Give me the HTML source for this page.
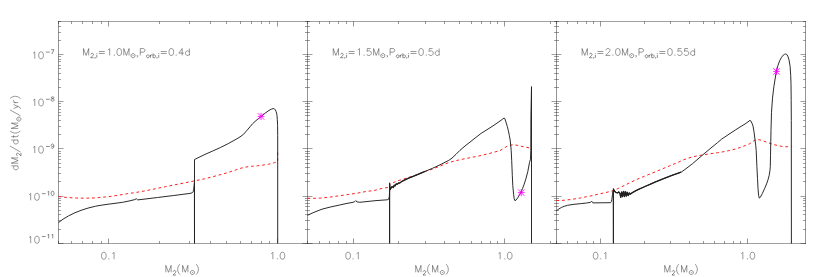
<!DOCTYPE html>
<html lang="en"><head><meta charset="utf-8"><title>Mass transfer rate vs donor mass</title>
<style>html,body{margin:0;padding:0;background:#fff;font-family:"Liberation Sans",sans-serif}svg{display:block}</style></head>
<body>
<svg width="830" height="277" viewBox="0 0 830 277" role="img">
<title>Mass-transfer rate dM2/dt (Msun/yr) versus donor mass M2 (Msun)</title>
<desc>Three log-log panels sharing the y axis dM2/dt(Msun/yr) from 10^-11 to 10^-7, x axis M2(Msun) with ticks 0.1 and 1.0. Panel labels: M2,i=1.0Msun,Porb,i=0.4d; M2,i=1.5Msun,Porb,i=0.5d; M2,i=2.0Msun,Porb,i=0.55d. Solid black curve: mass-transfer rate; dashed red curve: comparison rate; magenta asterisk marks a reference point.</desc>
<rect width="830" height="277" fill="#fff"/>
<path d="M58.0 21.5H806.0M58.0 243.5H806.0" fill="none" stroke="#1a1a1a" stroke-width="0.42"/>
<path d="M58.5 21.0V244.0M307.5 21.0V244.0M556.5 21.0V244.0M805.5 21.0V244.0" fill="none" stroke="#1a1a1a" stroke-width="0.47"/>
<path d="M58.5 243.5v-2.5M58.5 21.5v2.5M71.5 243.5v-2.5M71.5 21.5v2.5M82.5 243.5v-2.5M82.5 21.5v2.5M92.5 243.5v-2.5M92.5 21.5v2.5M101.5 243.5v-2.5M101.5 21.5v2.5M108.5 243.5v-5.0M108.5 21.5v5.0M159.5 243.5v-2.5M159.5 21.5v2.5M189.5 243.5v-2.5M189.5 21.5v2.5M210.5 243.5v-2.5M210.5 21.5v2.5M226.5 243.5v-2.5M226.5 21.5v2.5M240.5 243.5v-2.5M240.5 21.5v2.5M251.5 243.5v-2.5M251.5 21.5v2.5M261.5 243.5v-2.5M261.5 21.5v2.5M269.5 243.5v-2.5M269.5 21.5v2.5M277.5 243.5v-5.0M277.5 21.5v5.0M307.5 243.5v-2.5M307.5 21.5v2.5M319.5 243.5v-2.5M319.5 21.5v2.5M329.5 243.5v-2.5M329.5 21.5v2.5M338.5 243.5v-2.5M338.5 21.5v2.5M346.5 243.5v-2.5M346.5 21.5v2.5M353.5 243.5v-5.0M353.5 21.5v5.0M398.5 243.5v-2.5M398.5 21.5v2.5M425.5 243.5v-2.5M425.5 21.5v2.5M444.5 243.5v-2.5M444.5 21.5v2.5M459.5 243.5v-2.5M459.5 21.5v2.5M471.5 243.5v-2.5M471.5 21.5v2.5M481.5 243.5v-2.5M481.5 21.5v2.5M490.5 243.5v-2.5M490.5 21.5v2.5M497.5 243.5v-2.5M497.5 21.5v2.5M504.5 243.5v-5.0M504.5 21.5v5.0M550.5 243.5v-2.5M550.5 21.5v2.5M556.5 243.5v-2.5M556.5 21.5v2.5M567.5 243.5v-2.5M567.5 21.5v2.5M577.5 243.5v-2.5M577.5 21.5v2.5M586.5 243.5v-2.5M586.5 21.5v2.5M593.5 243.5v-2.5M593.5 21.5v2.5M600.5 243.5v-5.0M600.5 21.5v5.0M644.5 243.5v-2.5M644.5 21.5v2.5M670.5 243.5v-2.5M670.5 21.5v2.5M689.5 243.5v-2.5M689.5 21.5v2.5M703.5 243.5v-2.5M703.5 21.5v2.5M714.5 243.5v-2.5M714.5 21.5v2.5M724.5 243.5v-2.5M724.5 21.5v2.5M733.5 243.5v-2.5M733.5 21.5v2.5M740.5 243.5v-2.5M740.5 21.5v2.5M747.5 243.5v-5.0M747.5 21.5v5.0M791.5 243.5v-2.5M791.5 21.5v2.5" fill="none" stroke="#1a1a1a" stroke-width="0.46"/>
<path d="M58.5 243.5h5.0M307.5 243.5h-5.0M58.5 229.5h2.5M307.5 229.5h-2.5M58.5 220.5h2.5M307.5 220.5h-2.5M58.5 214.5h2.5M307.5 214.5h-2.5M58.5 210.5h2.5M307.5 210.5h-2.5M58.5 206.5h2.5M307.5 206.5h-2.5M58.5 203.5h2.5M307.5 203.5h-2.5M58.5 200.5h2.5M307.5 200.5h-2.5M58.5 198.5h2.5M307.5 198.5h-2.5M58.5 196.5h5.0M307.5 196.5h-5.0M58.5 181.5h2.5M307.5 181.5h-2.5M58.5 173.5h2.5M307.5 173.5h-2.5M58.5 167.5h2.5M307.5 167.5h-2.5M58.5 163.5h2.5M307.5 163.5h-2.5M58.5 159.5h2.5M307.5 159.5h-2.5M58.5 156.5h2.5M307.5 156.5h-2.5M58.5 153.5h2.5M307.5 153.5h-2.5M58.5 151.5h2.5M307.5 151.5h-2.5M58.5 148.5h5.0M307.5 148.5h-5.0M58.5 134.5h2.5M307.5 134.5h-2.5M58.5 126.5h2.5M307.5 126.5h-2.5M58.5 120.5h2.5M307.5 120.5h-2.5M58.5 115.5h2.5M307.5 115.5h-2.5M58.5 112.5h2.5M307.5 112.5h-2.5M58.5 109.5h2.5M307.5 109.5h-2.5M58.5 106.5h2.5M307.5 106.5h-2.5M58.5 103.5h2.5M307.5 103.5h-2.5M58.5 101.5h5.0M307.5 101.5h-5.0M58.5 87.5h2.5M307.5 87.5h-2.5M58.5 79.5h2.5M307.5 79.5h-2.5M58.5 73.5h2.5M307.5 73.5h-2.5M58.5 68.5h2.5M307.5 68.5h-2.5M58.5 65.5h2.5M307.5 65.5h-2.5M58.5 61.5h2.5M307.5 61.5h-2.5M58.5 59.5h2.5M307.5 59.5h-2.5M58.5 56.5h2.5M307.5 56.5h-2.5M58.5 54.5h5.0M307.5 54.5h-5.0M58.5 40.5h2.5M307.5 40.5h-2.5M58.5 32.5h2.5M307.5 32.5h-2.5M58.5 26.5h2.5M307.5 26.5h-2.5M58.5 21.5h2.5M307.5 21.5h-2.5M307.5 243.5h5.0M556.5 243.5h-5.0M307.5 229.5h2.5M556.5 229.5h-2.5M307.5 220.5h2.5M556.5 220.5h-2.5M307.5 214.5h2.5M556.5 214.5h-2.5M307.5 210.5h2.5M556.5 210.5h-2.5M307.5 206.5h2.5M556.5 206.5h-2.5M307.5 203.5h2.5M556.5 203.5h-2.5M307.5 200.5h2.5M556.5 200.5h-2.5M307.5 198.5h2.5M556.5 198.5h-2.5M307.5 196.5h5.0M556.5 196.5h-5.0M307.5 181.5h2.5M556.5 181.5h-2.5M307.5 173.5h2.5M556.5 173.5h-2.5M307.5 167.5h2.5M556.5 167.5h-2.5M307.5 163.5h2.5M556.5 163.5h-2.5M307.5 159.5h2.5M556.5 159.5h-2.5M307.5 156.5h2.5M556.5 156.5h-2.5M307.5 153.5h2.5M556.5 153.5h-2.5M307.5 151.5h2.5M556.5 151.5h-2.5M307.5 148.5h5.0M556.5 148.5h-5.0M307.5 134.5h2.5M556.5 134.5h-2.5M307.5 126.5h2.5M556.5 126.5h-2.5M307.5 120.5h2.5M556.5 120.5h-2.5M307.5 115.5h2.5M556.5 115.5h-2.5M307.5 112.5h2.5M556.5 112.5h-2.5M307.5 109.5h2.5M556.5 109.5h-2.5M307.5 106.5h2.5M556.5 106.5h-2.5M307.5 103.5h2.5M556.5 103.5h-2.5M307.5 101.5h5.0M556.5 101.5h-5.0M307.5 87.5h2.5M556.5 87.5h-2.5M307.5 79.5h2.5M556.5 79.5h-2.5M307.5 73.5h2.5M556.5 73.5h-2.5M307.5 68.5h2.5M556.5 68.5h-2.5M307.5 65.5h2.5M556.5 65.5h-2.5M307.5 61.5h2.5M556.5 61.5h-2.5M307.5 59.5h2.5M556.5 59.5h-2.5M307.5 56.5h2.5M556.5 56.5h-2.5M307.5 54.5h5.0M556.5 54.5h-5.0M307.5 40.5h2.5M556.5 40.5h-2.5M307.5 32.5h2.5M556.5 32.5h-2.5M307.5 26.5h2.5M556.5 26.5h-2.5M307.5 21.5h2.5M556.5 21.5h-2.5M556.5 243.5h5.0M805.5 243.5h-5.0M556.5 229.5h2.5M805.5 229.5h-2.5M556.5 220.5h2.5M805.5 220.5h-2.5M556.5 214.5h2.5M805.5 214.5h-2.5M556.5 210.5h2.5M805.5 210.5h-2.5M556.5 206.5h2.5M805.5 206.5h-2.5M556.5 203.5h2.5M805.5 203.5h-2.5M556.5 200.5h2.5M805.5 200.5h-2.5M556.5 198.5h2.5M805.5 198.5h-2.5M556.5 196.5h5.0M805.5 196.5h-5.0M556.5 181.5h2.5M805.5 181.5h-2.5M556.5 173.5h2.5M805.5 173.5h-2.5M556.5 167.5h2.5M805.5 167.5h-2.5M556.5 163.5h2.5M805.5 163.5h-2.5M556.5 159.5h2.5M805.5 159.5h-2.5M556.5 156.5h2.5M805.5 156.5h-2.5M556.5 153.5h2.5M805.5 153.5h-2.5M556.5 151.5h2.5M805.5 151.5h-2.5M556.5 148.5h5.0M805.5 148.5h-5.0M556.5 134.5h2.5M805.5 134.5h-2.5M556.5 126.5h2.5M805.5 126.5h-2.5M556.5 120.5h2.5M805.5 120.5h-2.5M556.5 115.5h2.5M805.5 115.5h-2.5M556.5 112.5h2.5M805.5 112.5h-2.5M556.5 109.5h2.5M805.5 109.5h-2.5M556.5 106.5h2.5M805.5 106.5h-2.5M556.5 103.5h2.5M805.5 103.5h-2.5M556.5 101.5h5.0M805.5 101.5h-5.0M556.5 87.5h2.5M805.5 87.5h-2.5M556.5 79.5h2.5M805.5 79.5h-2.5M556.5 73.5h2.5M805.5 73.5h-2.5M556.5 68.5h2.5M805.5 68.5h-2.5M556.5 65.5h2.5M805.5 65.5h-2.5M556.5 61.5h2.5M805.5 61.5h-2.5M556.5 59.5h2.5M805.5 59.5h-2.5M556.5 56.5h2.5M805.5 56.5h-2.5M556.5 54.5h5.0M805.5 54.5h-5.0M556.5 40.5h2.5M805.5 40.5h-2.5M556.5 32.5h2.5M805.5 32.5h-2.5M556.5 26.5h2.5M805.5 26.5h-2.5M556.5 21.5h2.5M805.5 21.5h-2.5" fill="none" stroke="#1a1a1a" stroke-width="0.42"/>
<g fill="none" stroke="#1a1a1a" stroke-width="0.45" stroke-linecap="butt" stroke-linejoin="round">
<g aria-label="10^-11"><path d="M29.03 237.59L29.69 237.26L30.68 236.27L30.68 243.20M36.62 236.27L35.63 236.60L34.97 237.59L34.64 239.24L34.64 240.23L34.97 241.88L35.63 242.87L36.62 243.20L37.28 243.20L38.27 242.87L38.93 241.88L39.26 240.23L39.26 239.24L38.93 237.59L38.27 236.60L37.28 236.27L36.62 236.27"/><path d="M41.91 236.56L45.60 236.56M47.64 234.92L48.05 234.72L48.67 234.10L48.67 238.40M51.74 234.92L52.14 234.72L52.76 234.10L52.76 238.40" stroke-width="0.5"/></g>
<g aria-label="10^-10"><path d="M29.03 194.68L29.69 194.35L30.68 193.36L30.68 200.29M36.62 193.36L35.63 193.69L34.97 194.68L34.64 196.33L34.64 197.32L34.97 198.97L35.63 199.96L36.62 200.29L37.28 200.29L38.27 199.96L38.93 198.97L39.26 197.32L39.26 196.33L38.93 194.68L38.27 193.69L37.28 193.36L36.62 193.36"/><path d="M41.91 193.65L45.60 193.65M47.64 192.01L48.05 191.81L48.67 191.19L48.67 195.49M52.35 191.19L51.74 191.40L51.33 192.01L51.12 193.03L51.12 193.65L51.33 194.67L51.74 195.28L52.35 195.49L52.76 195.49L53.37 195.28L53.78 194.67L53.99 193.65L53.99 193.03L53.78 192.01L53.37 191.40L52.76 191.19L52.35 191.19" stroke-width="0.5"/></g>
<g aria-label="10^-9"><path d="M33.12 147.50L33.78 147.17L34.77 146.18L34.77 153.11M40.71 146.18L39.72 146.51L39.06 147.50L38.73 149.15L38.73 150.14L39.06 151.79L39.72 152.78L40.71 153.11L41.37 153.11L42.36 152.78L43.02 151.79L43.35 150.14L43.35 149.15L43.02 147.50L42.36 146.51L41.37 146.18L40.71 146.18"/><path d="M46.01 146.47L49.69 146.47M53.78 145.45L53.58 146.06L53.17 146.47L52.55 146.67L52.35 146.67L51.74 146.47L51.33 146.06L51.12 145.45L51.12 145.24L51.33 144.63L51.74 144.22L52.35 144.01L52.55 144.01L53.17 144.22L53.58 144.63L53.78 145.45L53.78 146.47L53.58 147.49L53.17 148.11L52.55 148.31L52.14 148.31L51.53 148.11L51.33 147.70" stroke-width="0.5"/></g>
<g aria-label="10^-8"><path d="M33.12 100.32L33.78 99.99L34.77 99.00L34.77 105.93M40.71 99.00L39.72 99.33L39.06 100.32L38.73 101.97L38.73 102.96L39.06 104.61L39.72 105.60L40.71 105.93L41.37 105.93L42.36 105.60L43.02 104.61L43.35 102.96L43.35 101.97L43.02 100.32L42.36 99.33L41.37 99.00L40.71 99.00"/><path d="M46.01 99.29L49.69 99.29M52.14 96.84L51.53 97.04L51.33 97.45L51.33 97.86L51.53 98.27L51.94 98.47L52.76 98.68L53.37 98.88L53.78 99.29L53.99 99.70L53.99 100.32L53.78 100.72L53.58 100.93L52.96 101.13L52.14 101.13L51.53 100.93L51.33 100.72L51.12 100.32L51.12 99.70L51.33 99.29L51.74 98.88L52.35 98.68L53.17 98.47L53.58 98.27L53.78 97.86L53.78 97.45L53.58 97.04L52.96 96.84L52.14 96.84" stroke-width="0.5"/></g>
<g aria-label="10^-7"><path d="M33.12 53.15L33.78 52.82L34.77 51.83L34.77 58.76M40.71 51.83L39.72 52.16L39.06 53.15L38.73 54.80L38.73 55.79L39.06 57.44L39.72 58.43L40.71 58.76L41.37 58.76L42.36 58.43L43.02 57.44L43.35 55.79L43.35 54.80L43.02 53.15L42.36 52.16L41.37 51.83L40.71 51.83"/><path d="M46.01 52.12L49.69 52.12M53.99 49.66L51.94 53.96M51.12 49.66L53.99 49.66" stroke-width="0.5"/></g>
<g aria-label="0.1"><path d="M103.49 252.27L102.50 252.60L101.84 253.59L101.51 255.24L101.51 256.23L101.84 257.88L102.50 258.87L103.49 259.20L104.15 259.20L105.14 258.87L105.80 257.88L106.13 256.23L106.13 255.24L105.80 253.59L105.14 252.60L104.15 252.27L103.49 252.27M108.77 258.54L108.44 258.87L108.77 259.20L109.10 258.87L108.77 258.54M112.40 253.59L113.06 253.26L114.05 252.27L114.05 259.20"/></g>
<g aria-label="1.0"><path d="M271.22 253.59L271.88 253.26L272.87 252.27L272.87 259.20M277.49 258.54L277.16 258.87L277.49 259.20L277.82 258.87L277.49 258.54M282.11 252.27L281.12 252.60L280.46 253.59L280.13 255.24L280.13 256.23L280.46 257.88L281.12 258.87L282.11 259.20L282.77 259.20L283.76 258.87L284.42 257.88L284.75 256.23L284.75 255.24L284.42 253.59L283.76 252.60L282.77 252.27L282.11 252.27"/></g>
<g aria-label="M2(Msun)"><path d="M165.83 272.30L165.83 265.37L168.47 272.30L171.11 265.37L171.11 272.30M180.02 264.05L179.36 264.71L178.70 265.70L178.04 267.02L177.71 268.67L177.71 269.99L178.04 271.64L178.70 272.96L179.36 273.95L180.02 274.61M182.63 272.30L182.63 265.37L185.27 272.30L187.91 265.37L187.91 272.30M196.06 264.05L196.72 264.71L197.38 265.70L198.04 267.02L198.37 268.67L198.37 269.99L198.04 271.64L197.38 272.96L196.72 273.95L196.06 274.61"/><path d="M173.27 271.67L173.27 271.46L173.48 271.04L173.69 270.83L174.12 270.61L174.96 270.61L175.38 270.83L175.59 271.04L175.81 271.46L175.81 271.88L175.59 272.30L175.17 272.94L173.06 275.05L176.02 275.05M194.42 272.49L194.32 271.86L194.03 271.30L193.58 270.85L193.01 270.56L192.39 270.46L191.76 270.56L191.20 270.85L190.75 271.30L190.46 271.86L190.36 272.49L190.46 273.11L190.75 273.68L191.20 274.13L191.76 274.42L192.39 274.52L193.01 274.42L193.58 274.13L194.03 273.68L194.32 273.11L194.42 272.49M192.16 272.49L192.62 272.49M192.39 272.72L192.39 272.26" stroke-width="0.5"/></g>
<g aria-label="0.1"><path d="M347.76 252.27L346.77 252.60L346.11 253.59L345.78 255.24L345.78 256.23L346.11 257.88L346.77 258.87L347.76 259.20L348.42 259.20L349.41 258.87L350.07 257.88L350.40 256.23L350.40 255.24L350.07 253.59L349.41 252.60L348.42 252.27L347.76 252.27M353.04 258.54L352.71 258.87L353.04 259.20L353.37 258.87L353.04 258.54M356.67 253.59L357.33 253.26L358.32 252.27L358.32 259.20"/></g>
<g aria-label="1.0"><path d="M498.51 253.59L499.17 253.26L500.16 252.27L500.16 259.20M504.78 258.54L504.45 258.87L504.78 259.20L505.11 258.87L504.78 258.54M509.40 252.27L508.41 252.60L507.75 253.59L507.42 255.24L507.42 256.23L507.75 257.88L508.41 258.87L509.40 259.20L510.06 259.20L511.05 258.87L511.71 257.88L512.04 256.23L512.04 255.24L511.71 253.59L511.05 252.60L510.06 252.27L509.40 252.27"/></g>
<g aria-label="M2(Msun)"><path d="M415.73 272.30L415.73 265.37L418.37 272.30L421.01 265.37L421.01 272.30M429.92 264.05L429.26 264.71L428.60 265.70L427.94 267.02L427.61 268.67L427.61 269.99L427.94 271.64L428.60 272.96L429.26 273.95L429.92 274.61M432.53 272.30L432.53 265.37L435.17 272.30L437.81 265.37L437.81 272.30M445.96 264.05L446.62 264.71L447.28 265.70L447.94 267.02L448.27 268.67L448.27 269.99L447.94 271.64L447.28 272.96L446.62 273.95L445.96 274.61"/><path d="M423.17 271.67L423.17 271.46L423.38 271.04L423.59 270.83L424.02 270.61L424.86 270.61L425.28 270.83L425.50 271.04L425.71 271.46L425.71 271.88L425.50 272.30L425.07 272.94L422.96 275.05L425.92 275.05M444.32 272.49L444.22 271.86L443.93 271.30L443.48 270.85L442.91 270.56L442.29 270.46L441.66 270.56L441.10 270.85L440.65 271.30L440.36 271.86L440.26 272.49L440.36 273.11L440.65 273.68L441.10 274.13L441.66 274.42L442.29 274.52L442.91 274.42L443.48 274.13L443.93 273.68L444.22 273.11L444.32 272.49M442.06 272.49L442.52 272.49M442.29 272.72L442.29 272.26" stroke-width="0.5"/></g>
<g aria-label="0.1"><path d="M595.26 252.27L594.27 252.60L593.61 253.59L593.28 255.24L593.28 256.23L593.61 257.88L594.27 258.87L595.26 259.20L595.92 259.20L596.91 258.87L597.57 257.88L597.90 256.23L597.90 255.24L597.57 253.59L596.91 252.60L595.92 252.27L595.26 252.27M600.54 258.54L600.21 258.87L600.54 259.20L600.87 258.87L600.54 258.54M604.17 253.59L604.83 253.26L605.82 252.27L605.82 259.20"/></g>
<g aria-label="1.0"><path d="M741.20 253.59L741.86 253.26L742.85 252.27L742.85 259.20M747.47 258.54L747.14 258.87L747.47 259.20L747.80 258.87L747.47 258.54M752.09 252.27L751.10 252.60L750.44 253.59L750.11 255.24L750.11 256.23L750.44 257.88L751.10 258.87L752.09 259.20L752.75 259.20L753.74 258.87L754.40 257.88L754.73 256.23L754.73 255.24L754.40 253.59L753.74 252.60L752.75 252.27L752.09 252.27"/></g>
<g aria-label="M2(Msun)"><path d="M664.73 272.30L664.73 265.37L667.37 272.30L670.01 265.37L670.01 272.30M678.92 264.05L678.26 264.71L677.60 265.70L676.94 267.02L676.61 268.67L676.61 269.99L676.94 271.64L677.60 272.96L678.26 273.95L678.92 274.61M681.53 272.30L681.53 265.37L684.17 272.30L686.81 265.37L686.81 272.30M694.96 264.05L695.62 264.71L696.28 265.70L696.94 267.02L697.27 268.67L697.27 269.99L696.94 271.64L696.28 272.96L695.62 273.95L694.96 274.61"/><path d="M672.17 271.67L672.17 271.46L672.38 271.04L672.59 270.83L673.02 270.61L673.86 270.61L674.28 270.83L674.50 271.04L674.71 271.46L674.71 271.88L674.50 272.30L674.07 272.94L671.96 275.05L674.92 275.05M693.32 272.49L693.22 271.86L692.93 271.30L692.48 270.85L691.91 270.56L691.29 270.46L690.66 270.56L690.10 270.85L689.65 271.30L689.36 271.86L689.26 272.49L689.36 273.11L689.65 273.68L690.10 274.13L690.66 274.42L691.29 274.52L691.91 274.42L692.48 274.13L692.93 273.68L693.22 273.11L693.32 272.49M691.06 272.49L691.52 272.49M691.29 272.72L691.29 272.26" stroke-width="0.5"/></g>
<g aria-label="dM2/dt(Msun/yr)"><path d="M11.27 165.84L18.20 165.84M14.57 165.84L13.91 166.50L13.58 167.16L13.58 168.15L13.91 168.81L14.57 169.47L15.56 169.80L16.22 169.80L17.21 169.47L17.87 168.81L18.20 168.15L18.20 167.16L17.87 166.50L17.21 165.84M18.20 163.20L11.27 163.20L18.20 160.56L11.27 157.92L18.20 157.92M9.95 146.04L20.51 151.98M11.27 140.03L18.20 140.03M14.57 140.03L13.91 140.69L13.58 141.35L13.58 142.34L13.91 143.00L14.57 143.66L15.56 143.99L16.22 143.99L17.21 143.66L17.87 143.00L18.20 142.34L18.20 141.35L17.87 140.69L17.21 140.03M11.27 136.66L16.88 136.66L17.87 136.33L18.20 135.67L18.20 135.01M13.58 137.65L13.58 135.34M9.95 130.72L10.61 131.38L11.60 132.04L12.92 132.70L14.57 133.03L15.89 133.03L17.54 132.70L18.86 132.04L19.85 131.38L20.51 130.72M18.20 128.41L11.27 128.41L18.20 125.77L11.27 123.13L18.20 123.13M9.95 109.86L20.51 115.80M13.58 108.54L18.20 106.56M13.58 104.58L18.20 106.56L19.52 107.22L20.18 107.88L20.51 108.54L20.51 108.87M13.58 102.60L18.20 102.60M15.56 102.60L14.57 102.27L13.91 101.61L13.58 100.95L13.58 99.96M9.95 98.64L10.61 97.98L11.60 97.32L12.92 96.66L14.57 96.33L15.89 96.33L17.54 96.66L18.86 97.32L19.85 97.98L20.51 98.64"/><path d="M17.57 155.75L17.36 155.75L16.94 155.54L16.73 155.33L16.51 154.91L16.51 154.06L16.73 153.64L16.94 153.43L17.36 153.22L17.78 153.22L18.20 153.43L18.84 153.85L20.95 155.96L20.95 153.01M18.84 117.12L18.21 117.22L17.65 117.51L17.20 117.96L16.91 118.52L16.81 119.15L16.91 119.77L17.20 120.34L17.65 120.79L18.21 121.08L18.84 121.17L19.46 121.08L20.03 120.79L20.48 120.34L20.77 119.77L20.87 119.15L20.77 118.52L20.48 117.96L20.03 117.51L19.46 117.22L18.84 117.12M18.84 119.38L18.84 118.91M19.07 119.15L18.61 119.15" stroke-width="0.5"/></g>
<g aria-label="M2,i=1.0Msun,Porb,i=0.4d"><path d="M83.46 55.45L83.46 48.55L86.09 55.45L88.72 48.55L88.72 55.45M98.84 51.51L104.75 51.51M98.84 53.48L104.75 53.48M108.04 49.87L108.69 49.54L109.68 48.55L109.68 55.45M114.28 54.79L113.95 55.12L114.28 55.45L114.61 55.12L114.28 54.79M118.88 48.55L117.89 48.88L117.23 49.87L116.91 51.51L116.91 52.49L117.23 54.14L117.89 55.12L118.88 55.45L119.53 55.45L120.52 55.12L121.18 54.14L121.50 52.49L121.50 51.51L121.18 49.87L120.52 48.88L119.53 48.55L118.88 48.55M123.80 55.45L123.80 48.55L126.43 55.45L129.06 48.55L129.06 55.45M137.67 55.82L137.34 56.15L137.01 55.82L137.34 55.49L137.67 55.82L137.67 56.48L137.34 57.14L137.01 57.46M140.29 48.55L140.29 55.45M140.29 48.55L143.25 48.55L144.24 48.88L144.56 49.21L144.89 49.87L144.89 50.85L144.56 51.51L144.24 51.84L143.25 52.17L140.29 52.17M160.79 51.51L166.71 51.51M160.79 53.48L166.71 53.48M170.98 48.55L169.99 48.88L169.33 49.87L169.01 51.51L169.01 52.49L169.33 54.14L169.99 55.12L170.98 55.45L171.63 55.45L172.62 55.12L173.28 54.14L173.60 52.49L173.60 51.51L173.28 49.87L172.62 48.88L171.63 48.55L170.98 48.55M176.23 54.79L175.90 55.12L176.23 55.45L176.56 55.12L176.23 54.79M182.15 48.55L178.86 53.15L183.79 53.15M182.15 48.55L182.15 55.45M189.37 48.55L189.37 55.45M189.37 51.84L188.72 51.18L188.06 50.85L187.07 50.85L186.42 51.18L185.76 51.84L185.43 52.82L185.43 53.48L185.76 54.46L186.42 55.12L187.07 55.45L188.06 55.45L188.72 55.12L189.37 54.46"/><path d="M90.87 54.39L90.87 54.18L91.09 53.76L91.30 53.55L91.72 53.33L92.56 53.33L92.98 53.55L93.19 53.76L93.40 54.18L93.40 54.60L93.19 55.02L92.77 55.65L90.66 57.75L93.61 57.75M95.24 57.54L95.03 57.75L94.82 57.54L95.03 57.33L95.24 57.54L95.24 57.96L95.03 58.38L94.82 58.59M96.58 53.33L96.79 53.55L97.00 53.33L96.79 53.12L96.58 53.33M96.79 54.81L96.79 57.75M135.04 55.65L134.94 55.02L134.66 54.46L134.21 54.01L133.65 53.73L133.02 53.63L132.40 53.73L131.84 54.01L131.39 54.46L131.10 55.02L131.00 55.65L131.10 56.27L131.39 56.83L131.84 57.28L132.40 57.57L133.02 57.67L133.65 57.57L134.21 57.28L134.66 56.83L134.94 56.27L135.04 55.65M132.79 55.65L133.25 55.65M133.02 55.88L133.02 55.42M147.56 54.81L147.14 55.02L146.72 55.44L146.51 56.07L146.51 56.49L146.72 57.12L147.14 57.54L147.56 57.75L148.19 57.75L148.61 57.54L149.03 57.12L149.24 56.49L149.24 56.07L149.03 55.44L148.61 55.02L148.19 54.81L147.56 54.81M150.46 54.81L150.46 57.75M150.46 56.07L150.68 55.44L151.10 55.02L151.52 54.81L152.15 54.81M153.03 53.33L153.03 57.75M153.03 55.44L153.45 55.02L153.87 54.81L154.50 54.81L154.92 55.02L155.34 55.44L155.55 56.07L155.55 56.49L155.34 57.12L154.92 57.54L154.50 57.75L153.87 57.75L153.45 57.54L153.03 57.12M157.19 57.54L156.98 57.75L156.77 57.54L156.98 57.33L157.19 57.54L157.19 57.96L156.98 58.38L156.77 58.59M158.53 53.33L158.74 53.55L158.95 53.33L158.74 53.12L158.53 53.33M158.74 54.81L158.74 57.75" stroke-width="0.5"/></g>
<g aria-label="M2,i=1.5Msun,Porb,i=0.5d"><path d="M333.26 55.45L333.26 48.55L335.89 55.45L338.52 48.55L338.52 55.45M348.64 51.51L354.55 51.51M348.64 53.48L354.55 53.48M357.84 49.87L358.49 49.54L359.48 48.55L359.48 55.45M364.08 54.79L363.75 55.12L364.08 55.45L364.41 55.12L364.08 54.79M370.65 48.55L367.36 48.55L367.03 51.51L367.36 51.18L368.35 50.85L369.33 50.85L370.32 51.18L370.98 51.84L371.30 52.82L371.30 53.48L370.98 54.46L370.32 55.12L369.33 55.45L368.35 55.45L367.36 55.12L367.03 54.79L366.71 54.14M373.60 55.45L373.60 48.55L376.23 55.45L378.86 48.55L378.86 55.45M387.47 55.82L387.14 56.15L386.81 55.82L387.14 55.49L387.47 55.82L387.47 56.48L387.14 57.14L386.81 57.46M390.09 48.55L390.09 55.45M390.09 48.55L393.05 48.55L394.04 48.88L394.37 49.21L394.69 49.87L394.69 50.85L394.37 51.51L394.04 51.84L393.05 52.17L390.09 52.17M410.59 51.51L416.51 51.51M410.59 53.48L416.51 53.48M420.78 48.55L419.79 48.88L419.13 49.87L418.81 51.51L418.81 52.49L419.13 54.14L419.79 55.12L420.78 55.45L421.43 55.45L422.42 55.12L423.08 54.14L423.40 52.49L423.40 51.51L423.08 49.87L422.42 48.88L421.43 48.55L420.78 48.55M426.03 54.79L425.70 55.12L426.03 55.45L426.36 55.12L426.03 54.79M432.60 48.55L429.32 48.55L428.99 51.51L429.32 51.18L430.30 50.85L431.29 50.85L432.27 51.18L432.93 51.84L433.26 52.82L433.26 53.48L432.93 54.46L432.27 55.12L431.29 55.45L430.30 55.45L429.32 55.12L428.99 54.79L428.66 54.14M439.17 48.55L439.17 55.45M439.17 51.84L438.52 51.18L437.86 50.85L436.87 50.85L436.22 51.18L435.56 51.84L435.23 52.82L435.23 53.48L435.56 54.46L436.22 55.12L436.87 55.45L437.86 55.45L438.52 55.12L439.17 54.46"/><path d="M340.67 54.39L340.67 54.18L340.89 53.76L341.10 53.55L341.52 53.33L342.36 53.33L342.78 53.55L342.99 53.76L343.20 54.18L343.20 54.60L342.99 55.02L342.57 55.65L340.46 57.75L343.41 57.75M345.04 57.54L344.83 57.75L344.62 57.54L344.83 57.33L345.04 57.54L345.04 57.96L344.83 58.38L344.62 58.59M346.38 53.33L346.59 53.55L346.80 53.33L346.59 53.12L346.38 53.33M346.59 54.81L346.59 57.75M384.84 55.65L384.74 55.02L384.46 54.46L384.01 54.01L383.45 53.73L382.82 53.63L382.20 53.73L381.64 54.01L381.19 54.46L380.90 55.02L380.80 55.65L380.90 56.27L381.19 56.83L381.64 57.28L382.20 57.57L382.82 57.67L383.45 57.57L384.01 57.28L384.46 56.83L384.74 56.27L384.84 55.65M382.59 55.65L383.05 55.65M382.82 55.88L382.82 55.42M397.36 54.81L396.94 55.02L396.52 55.44L396.31 56.07L396.31 56.49L396.52 57.12L396.94 57.54L397.36 57.75L397.99 57.75L398.41 57.54L398.83 57.12L399.04 56.49L399.04 56.07L398.83 55.44L398.41 55.02L397.99 54.81L397.36 54.81M400.26 54.81L400.26 57.75M400.26 56.07L400.48 55.44L400.90 55.02L401.32 54.81L401.95 54.81M402.83 53.33L402.83 57.75M402.83 55.44L403.25 55.02L403.67 54.81L404.30 54.81L404.72 55.02L405.14 55.44L405.35 56.07L405.35 56.49L405.14 57.12L404.72 57.54L404.30 57.75L403.67 57.75L403.25 57.54L402.83 57.12M406.99 57.54L406.78 57.75L406.57 57.54L406.78 57.33L406.99 57.54L406.99 57.96L406.78 58.38L406.57 58.59M408.33 53.33L408.54 53.55L408.75 53.33L408.54 53.12L408.33 53.33M408.54 54.81L408.54 57.75" stroke-width="0.5"/></g>
<g aria-label="M2,i=2.0Msun,Porb,i=0.55d"><path d="M582.11 55.45L582.11 48.55L584.74 55.45L587.37 48.55L587.37 55.45M597.49 51.51L603.40 51.51M597.49 53.48L603.40 53.48M606.03 50.19L606.03 49.87L606.36 49.21L606.69 48.88L607.34 48.55L608.66 48.55L609.31 48.88L609.64 49.21L609.97 49.87L609.97 50.52L609.64 51.18L608.99 52.17L605.70 55.45L610.30 55.45M612.93 54.79L612.60 55.12L612.93 55.45L613.26 55.12L612.93 54.79M617.53 48.55L616.54 48.88L615.88 49.87L615.56 51.51L615.56 52.49L615.88 54.14L616.54 55.12L617.53 55.45L618.18 55.45L619.17 55.12L619.83 54.14L620.15 52.49L620.15 51.51L619.83 49.87L619.17 48.88L618.18 48.55L617.53 48.55M622.45 55.45L622.45 48.55L625.08 55.45L627.71 48.55L627.71 55.45M636.32 55.82L635.99 56.15L635.66 55.82L635.99 55.49L636.32 55.82L636.32 56.48L635.99 57.14L635.66 57.46M638.94 48.55L638.94 55.45M638.94 48.55L641.90 48.55L642.89 48.88L643.21 49.21L643.54 49.87L643.54 50.85L643.21 51.51L642.89 51.84L641.90 52.17L638.94 52.17M659.44 51.51L665.36 51.51M659.44 53.48L665.36 53.48M669.63 48.55L668.64 48.88L667.98 49.87L667.66 51.51L667.66 52.49L667.98 54.14L668.64 55.12L669.63 55.45L670.28 55.45L671.27 55.12L671.93 54.14L672.25 52.49L672.25 51.51L671.93 49.87L671.27 48.88L670.28 48.55L669.63 48.55M674.88 54.79L674.55 55.12L674.88 55.45L675.21 55.12L674.88 54.79M681.45 48.55L678.17 48.55L677.84 51.51L678.17 51.18L679.15 50.85L680.14 50.85L681.12 51.18L681.78 51.84L682.11 52.82L682.11 53.48L681.78 54.46L681.12 55.12L680.14 55.45L679.15 55.45L678.17 55.12L677.84 54.79L677.51 54.14M688.02 48.55L684.74 48.55L684.41 51.51L684.74 51.18L685.72 50.85L686.71 50.85L687.69 51.18L688.35 51.84L688.68 52.82L688.68 53.48L688.35 54.46L687.69 55.12L686.71 55.45L685.72 55.45L684.74 55.12L684.41 54.79L684.08 54.14M694.59 48.55L694.59 55.45M694.59 51.84L693.94 51.18L693.28 50.85L692.29 50.85L691.64 51.18L690.98 51.84L690.65 52.82L690.65 53.48L690.98 54.46L691.64 55.12L692.29 55.45L693.28 55.45L693.94 55.12L694.59 54.46"/><path d="M589.52 54.39L589.52 54.18L589.74 53.76L589.95 53.55L590.37 53.33L591.21 53.33L591.63 53.55L591.84 53.76L592.05 54.18L592.05 54.60L591.84 55.02L591.42 55.65L589.31 57.75L592.26 57.75M593.89 57.54L593.68 57.75L593.47 57.54L593.68 57.33L593.89 57.54L593.89 57.96L593.68 58.38L593.47 58.59M595.23 53.33L595.44 53.55L595.65 53.33L595.44 53.12L595.23 53.33M595.44 54.81L595.44 57.75M633.69 55.65L633.59 55.02L633.31 54.46L632.86 54.01L632.30 53.73L631.67 53.63L631.05 53.73L630.49 54.01L630.04 54.46L629.75 55.02L629.65 55.65L629.75 56.27L630.04 56.83L630.49 57.28L631.05 57.57L631.67 57.67L632.30 57.57L632.86 57.28L633.31 56.83L633.59 56.27L633.69 55.65M631.44 55.65L631.90 55.65M631.67 55.88L631.67 55.42M646.21 54.81L645.79 55.02L645.37 55.44L645.16 56.07L645.16 56.49L645.37 57.12L645.79 57.54L646.21 57.75L646.84 57.75L647.26 57.54L647.68 57.12L647.89 56.49L647.89 56.07L647.68 55.44L647.26 55.02L646.84 54.81L646.21 54.81M649.11 54.81L649.11 57.75M649.11 56.07L649.33 55.44L649.75 55.02L650.17 54.81L650.80 54.81M651.68 53.33L651.68 57.75M651.68 55.44L652.10 55.02L652.52 54.81L653.15 54.81L653.57 55.02L653.99 55.44L654.20 56.07L654.20 56.49L653.99 57.12L653.57 57.54L653.15 57.75L652.52 57.75L652.10 57.54L651.68 57.12M655.84 57.54L655.63 57.75L655.42 57.54L655.63 57.33L655.84 57.54L655.84 57.96L655.63 58.38L655.42 58.59M657.18 53.33L657.39 53.55L657.60 53.33L657.39 53.12L657.18 53.33M657.39 54.81L657.39 57.75" stroke-width="0.5"/></g>
</g>
<path d="M58.5 196.5L65.0 197.3L72.0 197.8L78.0 198.1L84.0 198.2L90.0 198.1L95.6 197.9L102.0 197.3L109.0 196.6L115.0 195.7L122.7 194.5L126.6 193.8L135.0 192.6L146.0 190.7L165.7 186.6L185.0 182.8L194.5 180.9L204.7 178.8L217.0 175.6L222.6 174.1L229.5 172.0L235.8 169.9L240.9 168.2L246.0 167.0L251.6 166.3L257.3 165.8L263.0 165.1L268.7 164.2L274.4 162.7L277.6 161.7L277.7 151.3" fill="none" stroke="#ff2020" stroke-width="1.0" stroke-dasharray="2.8 2.8" stroke-linejoin="round"/>
<path d="M307.5 198.3L315.0 198.3L322.0 198.0L330.0 197.1L339.2 195.8L347.0 194.7L356.4 193.3L365.0 191.7L375.0 190.3L379.6 188.9L385.1 187.9L389.5 187.2L389.7 184.2L391.6 183.6L396.5 181.1L401.4 179.7L407.5 177.8L416.2 175.0L425.0 171.5L432.5 169.1L440.0 166.1L448.7 162.6L456.0 160.6L465.0 158.7L473.0 157.1L481.2 155.5L490.0 153.3L500.0 150.6L502.6 149.0L507.0 146.3L512.7 144.7L516.0 145.1L520.3 146.0L525.0 147.1L531.3 148.2" fill="none" stroke="#ff2020" stroke-width="1.0" stroke-dasharray="2.8 2.8" stroke-linejoin="round"/>
<path d="M556.4 200.5L561.3 200.5L567.6 199.9L574.0 199.0L580.3 198.0L586.6 196.7L592.9 195.5L599.2 193.9L605.6 192.6L611.9 191.0L618.2 188.5L624.5 185.4L630.8 182.2L637.9 179.0L646.7 175.3L655.0 172.0L663.0 168.6L669.7 165.8L676.0 163.2L681.1 160.9L685.0 159.3L688.4 158.1L692.5 156.9L697.0 155.9L702.2 155.0L710.0 153.8L717.3 152.8L726.0 151.3L735.4 149.1L742.0 146.8L749.8 143.7L753.0 141.3L755.8 139.7L757.5 139.5L760.0 139.9L765.0 141.5L770.0 143.4L775.0 144.9L781.1 146.3L786.0 146.8L791.2 146.5" fill="none" stroke="#ff2020" stroke-width="1.0" stroke-dasharray="2.8 2.8" stroke-linejoin="round"/>
<path d="M58.5 222.6L63.0 219.2L68.5 215.9L75.0 212.7L82.0 210.0L88.0 208.1L95.6 206.2L102.0 205.1L109.0 204.1L116.0 203.2L122.7 202.3L129.0 201.0L134.8 199.6L136.4 198.8L137.7 199.9L147.0 198.8L157.5 197.5L173.8 195.5L190.0 193.4L192.0 192.9L193.1 191.8L193.7 189.3L194.1 185.8L194.4 182.6L194.5 243.4L194.5 159.5L205.0 154.4L212.5 151.1L220.7 147.4L228.8 143.3L236.0 139.3L240.0 136.9L243.5 134.3L247.0 130.3L250.0 126.8L252.6 123.7L256.0 120.6L260.8 116.7L265.0 113.3L269.0 110.4L271.5 109.1L273.1 108.6L274.5 108.9L275.3 109.8L276.0 111.3L276.6 113.1L277.0 115.6L277.3 119.3L277.6 125.6L277.7 135.3L277.7 243.4" fill="none" stroke="#202020" stroke-width="0.95" stroke-linejoin="round"/>
<path d="M307.5 215.3L314.0 212.3L322.0 209.2L330.0 207.1L339.2 205.1L346.0 203.6L353.0 202.3L354.5 201.8L355.7 200.6L357.0 201.9L359.8 202.3L375.0 200.7L387.2 199.8L388.5 199.3L389.3 197.0L389.6 190.3L389.6 243.4L389.6 182.8L390.0 189.7L391.0 188.1L392.0 186.5L393.3 187.5L394.2 185.2L395.2 185.8L396.2 183.9L397.5 184.2L398.5 182.9L399.8 183.1L402.0 181.3L407.5 178.6L416.2 175.1L425.0 171.4L432.5 168.3L440.0 164.8L448.7 160.4L452.0 158.1L456.0 154.3L460.0 150.3L465.0 146.0L473.0 139.7L481.2 133.3L490.0 127.8L495.0 124.5L500.0 121.0L502.5 119.2L504.0 118.0L504.8 118.5L506.0 122.2L507.3 126.5L508.4 130.8L509.3 135.3L510.2 140.1L511.2 150.3L511.7 160.5L512.3 175.3L512.8 185.8L513.6 194.3L514.2 198.8L514.9 200.7L515.8 200.3L517.7 197.9L519.3 195.3L521.0 192.0L522.5 188.6L524.0 184.7L525.8 179.1L527.8 171.6L529.5 162.6L530.5 159.2L530.8 150.3L530.9 118.3L531.5 86.6L531.5 243.4" fill="none" stroke="#202020" stroke-width="0.95" stroke-linejoin="round"/>
<path d="M556.4 210.7L558.5 209.2L561.3 207.5L564.2 206.3L567.6 205.3L574.0 204.3L580.3 203.7L586.6 203.0L590.4 202.4L591.1 201.9L591.7 201.2L592.3 202.1L592.9 202.9L600.0 202.8L610.6 202.7L611.4 201.5L611.9 199.3L612.5 194.3L612.9 191.7L613.3 190.3L613.4 243.4L613.4 188.5L614.4 191.0L615.7 192.3L617.6 192.9L618.8 191.9L620.1 193.6L620.7 197.4L621.7 191.9L622.6 196.7L623.6 191.4L624.5 196.5L625.5 191.7L626.4 196.1L627.3 192.3L628.3 195.5L629.3 192.9L630.2 194.2L632.0 192.9L635.0 191.2L637.9 189.7L645.0 186.5L650.0 184.3L655.0 182.1L663.0 178.8L672.0 175.3L681.1 172.2L686.0 168.7L692.5 163.7L702.2 155.3L710.0 148.8L717.3 142.8L721.7 139.1L726.0 136.2L730.0 133.5L735.4 130.0L740.0 127.0L745.0 124.0L748.0 121.9L750.0 120.3L750.8 120.9L752.0 123.3L753.0 125.9L754.0 131.8L754.9 138.9L755.7 145.3L756.2 150.3L756.9 166.6L757.5 178.3L758.0 188.3L758.6 195.3L759.3 198.1L760.3 197.3L762.3 193.6L764.5 188.8L766.6 183.9L768.0 179.8L769.2 175.3L769.9 170.8L770.3 166.6L770.5 155.8L770.7 145.0L771.0 130.3L771.5 112.3L772.5 98.1L773.9 86.5L776.2 72.1L778.0 65.3L779.7 60.7L781.5 57.3L783.2 55.2L784.5 54.3L785.6 54.0L786.7 54.4L787.8 56.1L789.0 59.8L790.1 66.3L790.7 75.3L791.0 83.7L791.2 100.3L791.3 120.3L791.4 243.4" fill="none" stroke="#202020" stroke-width="0.95" stroke-linejoin="round"/>
<path d="M389.6 184.3L390.0 189.7L391.0 188.1L392.0 186.5L393.3 187.5L394.2 185.2L395.2 185.8L396.2 183.9L397.5 184.2L398.5 182.9L399.8 183.1L402.0 181.3L407.5 178.6L416.2 175.1L425.0 171.4" fill="none" stroke="#202020" stroke-width="1.35" stroke-linejoin="round"/>
<path d="M613.4 189.3L614.4 191.0L615.7 192.3L617.6 192.9L618.8 191.9L620.1 193.6L620.7 197.4L621.7 191.9L622.6 196.7L623.6 191.4L624.5 196.5L625.5 191.7L626.4 196.1L627.3 192.3L628.3 195.5L629.3 192.9L630.2 194.2L632.0 192.9L635.0 191.2L637.9 189.7L645.0 186.5L650.0 184.3L655.0 182.1L663.0 178.8L672.0 175.3L681.1 172.2" fill="none" stroke="#202020" stroke-width="1.35" stroke-linejoin="round"/>
<path d="M257.7 116.39999999999999H264.3M261.0 112.8V120.0M257.8 113.2L264.2 119.6M257.8 119.6L264.2 113.2" fill="none" stroke="#ff00ff" stroke-width="0.85"/>
<path d="M517.9 192.60000000000002H524.5M521.2 189.0V196.2M518.0 189.4L524.4 195.8M518.0 195.8L524.4 189.4" fill="none" stroke="#ff00ff" stroke-width="0.85"/>
<path d="M773.2 71.39999999999999H779.8M776.5 67.8V75.0M773.3 68.2L779.7 74.6M773.3 74.6L779.7 68.2" fill="none" stroke="#ff00ff" stroke-width="0.85"/>
</svg>
</body></html>
